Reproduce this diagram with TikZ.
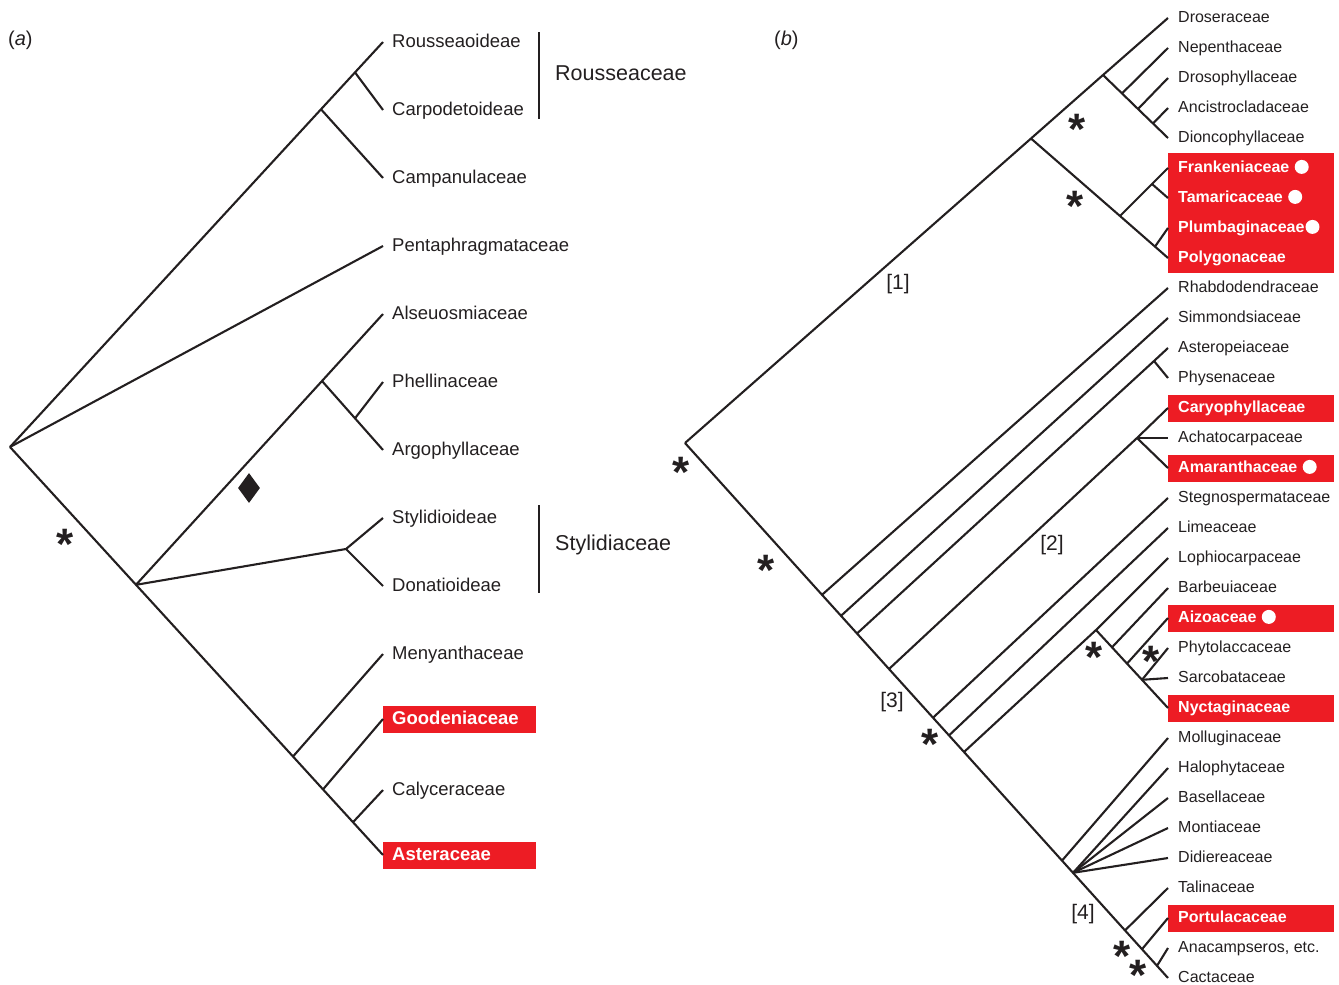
\documentclass[tikz,border=0pt]{standalone}
\usepackage{fontspec}
\setmainfont{Liberation Sans}
\usetikzlibrary{positioning}
\usetikzlibrary{shapes.geometric}

\definecolor{ink}{HTML}{231F20}
\definecolor{flag}{HTML}{ED1C24}

\newcommand{\whitedot}{\tikz[baseline=-5.5pt]\fill[white] (0,0) circle[radius=7pt];}
\newcommand{\sigmark}{\raisebox{-24.6pt}[8pt][8pt]{*}}

\begin{document}
\begin{tikzpicture}
    [
    x=1pt, y=-1pt,
    branch/.style={draw=ink, line width=2.1pt},
    bar/.style={draw=ink, line width=2.5pt},
    taxA/.style={anchor=west, text=ink, font=\fontsize{18.5}{22}\selectfont, inner xsep=9pt, inner ysep=4.7pt, text height=13.9pt, text depth=3.7pt},
    flagA/.style={taxA, fill=flag, text=white, font=\fontsize{18.5}{22}\selectfont\bfseries, text width=135pt, align=left},
    taxB/.style={anchor=west, text=ink, font=\fontsize{16}{19}\selectfont, inner xsep=10pt, inner ysep=0pt, text height=12pt, text depth=3.2pt},
    flagB/.style={taxB, fill=flag, text=white, font=\fontsize{16}{19}\selectfont\bfseries, text width=146pt, align=left, inner ysep=5.9pt},
    flagrun/.style={flagB, inner ysep=7.5pt},
    family/.style={anchor=west, text=ink, font=\fontsize{21.5}{25}\selectfont, inner sep=0pt},
    panel/.style={anchor=west, text=ink, font=\fontsize{20}{24}\selectfont, inner sep=0pt},
    clade/.style={text=ink, font=\fontsize{21}{25}\selectfont, inner sep=0pt},
    sig/.style={text=ink, font=\fontsize{44}{44}\selectfont\bfseries, inner sep=0pt, anchor=base},
    gem/.style={diamond, fill=ink, minimum width=22pt, minimum height=30pt, inner sep=0pt},
    ]

    \useasboundingbox (0,0) rectangle (1339,985);

    % (a) campanulids
    \node[panel] (lab-a) at (8,40) {(\textit{a})};

    \node[taxA] (rsoi) at (383,42) {Rousseaoideae};
    \node[taxA] (carp) at (383,110) {Carpodetoideae};
    \node[taxA] (camp) at (383,178) {Campanulaceae};
    \node[taxA] (pent) at (383,246) {Pentaphragmataceae};
    \node[taxA] (alse) at (383,314) {Alseuosmiaceae};
    \node[taxA] (phel) at (383,382) {Phellinaceae};
    \node[taxA] (argo) at (383,450) {Argophyllaceae};
    \node[taxA] (stlo) at (383,518) {Stylidioideae};
    \node[taxA] (dona) at (383,586) {Donatioideae};
    \node[taxA] (meny) at (383,654) {Menyanthaceae};
    \node[flagA] (good) at (383,719) {Goodeniaceae};
    \node[taxA] (caly) at (383,790) {Calyceraceae};
    \node[flagA] (astr) at (383,855) {Asteraceae};

    \coordinate (a-root) at (10,447);
    \coordinate (a-camp) at (321,109.3);
    \coordinate (a-rous) at (355,72.4);
    \coordinate (a-core) at (136,584.8);
    \coordinate (a-phel) at (322,381);
    \coordinate (a-argo) at (355,418.3);
    \coordinate (a-styl) at (346,549);
    \coordinate (a-meny) at (293,756.5);
    \coordinate (a-good) at (323,789.4);
    \coordinate (a-caly) at (353,822.2);

    \draw[branch] (a-root) -- (a-camp) -- (a-rous) -- (rsoi.west);
    \draw[branch] (a-rous) -- (carp.west);
    \draw[branch] (a-camp) -- (camp.west);
    \draw[branch] (a-root) -- (pent.west);
    \draw[branch] (a-root) -- (a-core) -- (a-meny) -- (a-good) -- (a-caly) -- (astr.west);
    \draw[branch] (a-core) -- (a-phel) -- (alse.west);
    \draw[branch] (a-phel) -- (a-argo) -- (argo.west);
    \draw[branch] (a-argo) -- (phel.west);
    \draw[branch] (a-core) -- (a-styl) -- (stlo.west);
    \draw[branch] (a-styl) -- (dona.west);
    \draw[branch] (a-meny) -- (meny.west);
    \draw[branch] (a-good) -- (good.west);
    \draw[branch] (a-caly) -- (caly.west);

    \coordinate (rous-top) at (539,32);
    \coordinate (rous-bot) at (539,119);
    \draw[bar] (rous-top) -- (rous-bot);
    \node[family] (rous-lab) at (555,73) {Rousseaceae};

    \coordinate (styl-top) at (539,505);
    \coordinate (styl-bot) at (539,593);
    \draw[bar] (styl-top) -- (styl-bot);
    \node[family] (styl-lab) at (555,545) {Stylidiaceae};

    \node[gem] (gem) at (249,488) {};
    \node[sig] (sig-a) at (65,535) {\sigmark};

    % (b) Caryophyllales
    \node[panel] (lab-b) at (774,40) {(\textit{b})};

    \node[taxB] (dros) at (1168,18) {Droseraceae};
    \node[taxB] (nepe) at (1168,48) {Nepenthaceae};
    \node[taxB] (drsp) at (1168,78) {Drosophyllaceae};
    \node[taxB] (anci) at (1168,108) {Ancistrocladaceae};
    \node[taxB] (dion) at (1168,138) {Dioncophyllaceae};
    \node[flagrun] (fran) at (1168,168) {Frankeniaceae \whitedot};
    \node[flagrun] (tama) at (1168,198) {Tamaricaceae \whitedot};
    \node[flagrun] (plum) at (1168,228) {Plumbaginaceae\hspace{1pt}\whitedot};
    \node[flagrun] (poly) at (1168,258) {Polygonaceae};
    \node[taxB] (rhab) at (1168,288) {Rhabdodendraceae};
    \node[taxB] (simm) at (1168,318) {Simmondsiaceae};
    \node[taxB] (aste) at (1168,348) {Asteropeiaceae};
    \node[taxB] (phys) at (1168,378) {Physenaceae};
    \node[flagB] (cary) at (1168,408) {Caryophyllaceae};
    \node[taxB] (acha) at (1168,438) {Achatocarpaceae};
    \node[flagB] (amar) at (1168,468) {Amaranthaceae \whitedot};
    \node[taxB] (steg) at (1168,498) {Stegnospermataceae};
    \node[taxB] (lime) at (1168,528) {Limeaceae};
    \node[taxB] (loph) at (1168,558) {Lophiocarpaceae};
    \node[taxB] (barb) at (1168,588) {Barbeuiaceae};
    \node[flagB] (aizo) at (1168,618) {Aizoaceae \whitedot};
    \node[taxB] (phyt) at (1168,648) {Phytolaccaceae};
    \node[taxB] (sarc) at (1168,678) {Sarcobataceae};
    \node[flagB] (nyct) at (1168,708) {Nyctaginaceae};
    \node[taxB] (moll) at (1168,738) {Molluginaceae};
    \node[taxB] (halo) at (1168,768) {Halophytaceae};
    \node[taxB] (basl) at (1168,798) {Basellaceae};
    \node[taxB] (mont) at (1168,828) {Montiaceae};
    \node[taxB] (didi) at (1168,858) {Didiereaceae};
    \node[taxB] (tali) at (1168,888) {Talinaceae};
    \node[flagB] (port) at (1168,918) {Portulacaceae};
    \node[taxB] (anac) at (1168,948) {Anacampseros, etc.};
    \node[taxB] (cact) at (1168,978) {Cactaceae};

    \coordinate (b-root) at (685,443);
    \coordinate (b-core) at (1031,138.5);
    \coordinate (b-drose) at (1103,75);
    \coordinate (b-nepe) at (1122,93.4);
    \coordinate (b-drsp) at (1138,109);
    \coordinate (b-anci) at (1153,123.5);
    \coordinate (b-fran) at (1120,216);
    \coordinate (b-tama) at (1152,184);
    \coordinate (b-plum) at (1155,246.6);
    \coordinate (b-rhab) at (822,594.8);
    \coordinate (b-simm) at (841,615.8);
    \coordinate (b-aste) at (857,633.5);
    \coordinate (b-phys) at (1154,361);
    \coordinate (b-cary) at (889,669);
    \coordinate (b-acha) at (1137,438);
    \coordinate (b-steg) at (933,717.7);
    \coordinate (b-lime) at (949,735.4);
    \coordinate (b-nyct) at (964,752);
    \coordinate (b-loph) at (1096,630);
    \coordinate (b-barb) at (1112,647.3);
    \coordinate (b-aizo) at (1127,663.6);
    \coordinate (b-phyt) at (1142,679.8);
    \coordinate (b-moll) at (1062,860.6);
    \coordinate (b-halo) at (1073,872.8);
    \coordinate (b-tali) at (1125,930.4);
    \coordinate (b-port) at (1142,949.2);
    \coordinate (b-anac) at (1157,965.8);

    \draw[branch] (b-root) -- (b-core) -- (b-drose) -- (dros.west);
    \draw[branch] (b-drose) -- (b-nepe) -- (b-drsp) -- (b-anci) -- (dion.west);
    \draw[branch] (b-nepe) -- (nepe.west);
    \draw[branch] (b-drsp) -- (drsp.west);
    \draw[branch] (b-anci) -- (anci.west);
    \draw[branch] (b-core) -- (b-fran) -- (b-plum) -- (poly.west);
    \draw[branch] (b-fran) -- (b-tama) -- (fran.west);
    \draw[branch] (b-tama) -- (tama.west);
    \draw[branch] (b-plum) -- (plum.west);

    \draw[branch] (b-root) -- (b-rhab) -- (b-simm) -- (b-aste) -- (b-cary) -- (b-steg) -- (b-lime) -- (b-nyct) -- (b-moll) -- (b-halo) -- (b-tali) -- (b-port) -- (b-anac) -- (cact.west);
    \draw[branch] (b-rhab) -- (rhab.west);
    \draw[branch] (b-simm) -- (simm.west);
    \draw[branch] (b-aste) -- (b-phys) -- (aste.west);
    \draw[branch] (b-phys) -- (phys.west);
    \draw[branch] (b-cary) -- (b-acha) -- (cary.west);
    \draw[branch] (b-acha) -- (acha.west);
    \draw[branch] (b-acha) -- (amar.west);
    \draw[branch] (b-steg) -- (steg.west);
    \draw[branch] (b-lime) -- (lime.west);
    \draw[branch] (b-nyct) -- (b-loph) -- (loph.west);
    \draw[branch] (b-loph) -- (b-barb) -- (b-aizo) -- (b-phyt) -- (nyct.west);
    \draw[branch] (b-barb) -- (barb.west);
    \draw[branch] (b-aizo) -- (aizo.west);
    \draw[branch] (b-phyt) -- (phyt.west);
    \draw[branch] (b-phyt) -- (sarc.west);
    \draw[branch] (b-moll) -- (moll.west);
    \draw[branch] (b-halo) -- (halo.west);
    \draw[branch] (b-halo) -- (basl.west);
    \draw[branch] (b-halo) -- (mont.west);
    \draw[branch] (b-halo) -- (didi.west);
    \draw[branch] (b-tali) -- (tali.west);
    \draw[branch] (b-port) -- (port.west);
    \draw[branch] (b-anac) -- (anac.west);

    \node[clade] (cl-1) at (898,284) {[1]};
    \node[clade] (cl-2) at (1052,545) {[2]};
    \node[clade] (cl-3) at (892,702) {[3]};
    \node[clade] (cl-4) at (1083,914) {[4]};

    \node[sig] (sig-1) at (1077,120) {\sigmark};
    \node[sig] (sig-2) at (1075,197) {\sigmark};
    \node[sig] (sig-3) at (681,463) {\sigmark};
    \node[sig] (sig-4) at (766,561) {\sigmark};
    \node[sig] (sig-5) at (930,735) {\sigmark};
    \node[sig] (sig-6) at (1094,648) {\sigmark};
    \node[sig] (sig-7) at (1151,652) {\sigmark};
    \node[sig] (sig-8) at (1122,947) {\sigmark};
    \node[sig] (sig-9) at (1138,966) {\sigmark};
\end{tikzpicture}
\end{document}
